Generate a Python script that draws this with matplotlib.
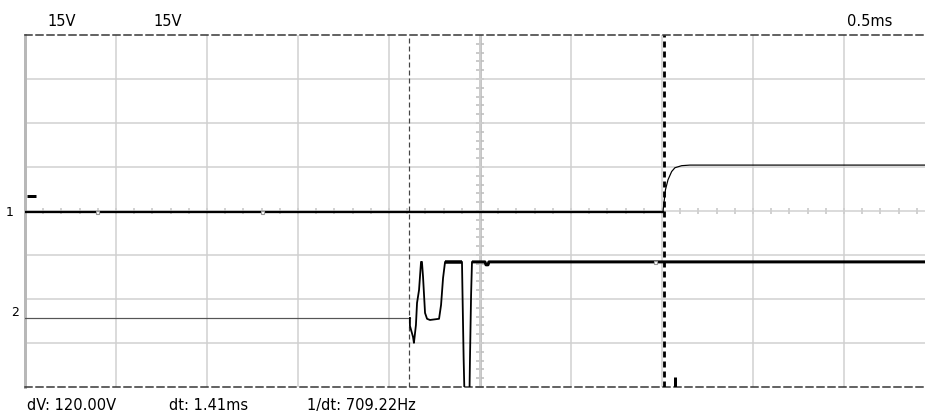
import matplotlib
matplotlib.use('Agg')
import matplotlib.pyplot as plt
import numpy as np

plt.rcParams['lines.scale_dashes'] = False
plt.rcParams['font.family'] = ['DejaVu Sans']

## scope settings
volts_per_div = 15
ms_per_div = 0.5
ch1_offset = 3.97   # divisions above bottom edge
ch2_offset = 1.57
n_xdiv = 900 / 91   # visible divisions (screen is cut at the right)
n_ydiv = 8

## channel 1 (time in ms, volts)
ch1_t = [0.0, 3.505, 3.519, 3.533, 3.553, 3.571, 3.608, 3.654, 4.945]
ch1_v = [0.0, 0.0, 7.7, 11.1, 13.9, 15.2, 15.9, 16.1, 16.1]

## channel 2 (time in ms, volts)
ch2_t = [0.0, 2.115, 2.115, 2.132, 2.137, 2.148, 2.154, 2.165, 2.176, 2.181,
         2.187, 2.198, 2.209, 2.225, 2.275, 2.286, 2.297, 2.308, 2.401, 2.404,
         2.410, 2.418, 2.440, 2.445, 2.451, 2.456, 2.527, 2.533, 2.544, 2.549,
         4.945]
ch2_v = [0.0, 0.0, -2.7, -6.5, -8.5, -2.4, 5.1, 9.5, 19.1, 19.1,
         14.0, 1.7, -0.3, -0.7, -0.3, 4.4, 13.6, 19.1, 19.1, 7.8,
         -13.6, -35.0, -35.0, -13.6, 7.8, 19.1, 19.1, 18.1, 18.1, 19.1,
         19.1]

## cursors (ms)
cursor_a = 2.11
cursor_b = 3.51

top_labels = ['15V', '15V', '0.5ms']
bottom_labels = ['dV: 120.00V', 'dt: 1.41ms', '1/dt: 709.22Hz']

px = 0.72  # points per pixel at 100 dpi

fig = plt.figure(figsize=(9.25, 4.12), dpi=100)
ax = fig.add_axes([25 / 925, 25 / 412, 900 / 925, 352 / 412])
xmax = n_xdiv * ms_per_div
ax.set_xlim(0, xmax)
ax.set_ylim(0, n_ydiv)

# grid
ax.set_xticks(np.arange(ms_per_div, xmax, ms_per_div))
ax.set_yticks(np.arange(1, n_ydiv))
ax.grid(True, color='#d0d0d0', lw=1.5 * px)
ax.tick_params(length=0, labelbottom=False, labelleft=False)
center_x = 5 * ms_per_div
ax.axvline(center_x, color='#c4c4c4', lw=3 * px, zorder=1)
xt = np.arange(0, xmax, ms_per_div / 5)
ax.plot(xt, np.full(len(xt), 4), ls='none', marker='|', ms=6 * px, mew=1.5 * px,
        color='#c4c4c4', zorder=1)
yt = np.arange(0, n_ydiv, 0.2)
ax.plot(np.full(len(yt), center_x), yt, ls='none', marker='_', ms=8 * px, mew=1.5 * px,
        color='#bbbbbb', zorder=1)

# frame
ax.spines['right'].set_visible(False)
for s in ['top', 'bottom']:
    ax.spines[s].set_color('#333333')
    ax.spines[s].set_linewidth(1.5 * px)
    ax.spines[s].set_linestyle((0, (7 * px, 4 * px)))
ax.spines['left'].set_color('#b8b8b8')
ax.spines['left'].set_linewidth(3 * px)

# channel 1
t1 = np.array(ch1_t)
y1 = np.array(ch1_v) / volts_per_div + ch1_offset
k = 2
ax.plot(t1[:k], y1[:k], color='black', lw=2.3 * px, zorder=4)
ax.plot(t1[k - 1:], y1[k - 1:], color='black', lw=1.2 * px, zorder=4)
ax.plot([0.396, 1.302], [ch1_offset, ch1_offset], ls='none', marker='s', ms=3 * px,
        mfc='white', mec='#999999', mew=0.8, zorder=5)

# channel 2
t2 = np.array(ch2_t)
y2 = np.array(ch2_v) / volts_per_div + ch2_offset
ax.plot(t2[:2], y2[:2], color='#555555', lw=1.2 * px, zorder=4)
ax.plot(t2[1:], y2[1:], color='black', lw=1.8 * px, zorder=4)
ax.plot(t2[17:19], y2[17:19], color='black', lw=3.5 * px, solid_capstyle='butt', zorder=4)
ax.plot(t2[25:], y2[25:], color='black', lw=3 * px, solid_capstyle='butt', zorder=4)
ax.plot([3.462], [19.1 / volts_per_div + ch2_offset], ls='none', marker='s', ms=3 * px,
        mfc='white', mec='#999999', mew=0.8, zorder=5)

# cursors
ax.axvline(cursor_a, color='#444444', lw=1.2 * px, ls=(0, (5 * px, 3 * px)), zorder=3)
ax.axvline(cursor_b, color='black', lw=2.8 * px, ls=(0, (6 * px, 4 * px)), zorder=3)

# trigger markers
ax.plot([0.011, 0.06], [4.34, 4.34], color='black', lw=3 * px, clip_on=False, zorder=5,
        solid_capstyle='butt')
ax.plot([3.571, 3.571], [0, 0.23], color='black', lw=3 * px, zorder=5, solid_capstyle='butt')

# text
fs = 10.5
for lab, x in zip(top_labels, [47, 153, 847]):
    fig.text(x / 925, 1 - 26 / 412, lab, fontsize=fs, va='baseline', ha='left')
for lab, x in zip(bottom_labels, [27, 169, 307]):
    fig.text(x / 925, 1 - 410 / 412, lab, fontsize=fs, va='baseline', ha='left')
fig.text(10 / 925, 1 - 213 / 412, '1', fontsize=9, va='center', ha='center')
fig.text(15 / 925, 1 - 313 / 412, '2', fontsize=9, va='center', ha='center')

fig.savefig('out.png', dpi=100)
